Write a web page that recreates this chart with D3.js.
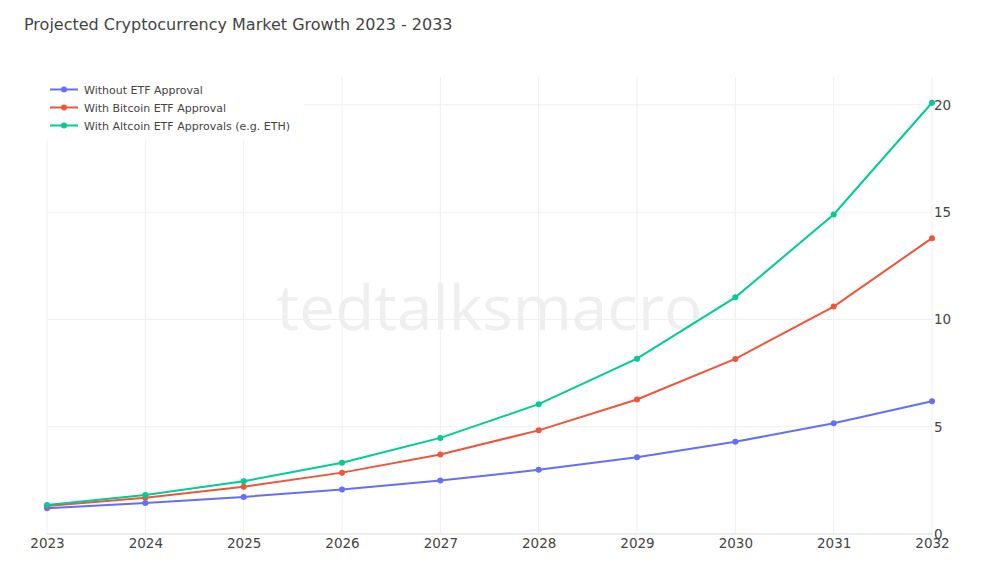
<!DOCTYPE html>
<html>
<head>
<meta charset="utf-8">
<script src="https://cdn.jsdelivr.net/npm/d3@7"></script>
<style>
  body { margin: 0; background: #fff; }
  text { font-family: "DejaVu Sans", Verdana, sans-serif; }
</style>
</head>
<body>
<script>
const w = 1000;
const h = 564;

// data
const years = [2023, 2024, 2025, 2026, 2027, 2028, 2029, 2030, 2031, 2032];
const withoutEtf = [1.2, 1.44, 1.73, 2.07, 2.49, 2.99, 3.58, 4.3, 5.16, 6.19];
const bitcoinEtf = [1.3, 1.69, 2.2, 2.86, 3.71, 4.83, 6.27, 8.16, 10.6, 13.79];
const altcoinEtf = [1.35, 1.82, 2.46, 3.32, 4.48, 6.05, 8.17, 11.03, 14.89, 20.1];
const yTicks = [0, 5, 10, 15, 20];
const seriesNames = ["Without ETF Approval", "With Bitcoin ETF Approval", "With Altcoin ETF Approvals (e.g. ETH)"];
const seriesColors = ["#636efa", "#ef553b", "#00cc96"];

const series = [withoutEtf, bitcoinEtf, altcoinEtf];

const plotLeft = 47, plotRight = 932, plotTop = 77, plotBottom = 534;

let svg = d3.select("body").append("svg")
    .attr("width", w)
    .attr("height", h);

var x = d3.scaleLinear()
    .domain([2023, 2032])
    .range([plotLeft, plotRight]);

var y = d3.scaleLinear()
    .domain([0, 21.3])
    .range([plotBottom, plotTop]);

// grid
svg.append("g")
    .selectAll("line")
    .data(years)
    .join("line")
    .attr("x1", d => x(d)).attr("x2", d => x(d))
    .attr("y1", plotTop).attr("y2", plotBottom)
    .attr("stroke", "#efefef")
    .attr("stroke-width", 1);

svg.append("g")
    .selectAll("line")
    .data(yTicks.filter(d => d > 0))
    .join("line")
    .attr("x1", plotLeft).attr("x2", plotRight)
    .attr("y1", d => y(d)).attr("y2", d => y(d))
    .attr("stroke", "#efefef")
    .attr("stroke-width", 1);

// zero line
svg.append("line")
    .attr("x1", plotLeft).attr("x2", plotRight)
    .attr("y1", y(0)).attr("y2", y(0))
    .attr("stroke", "#e6e6e6")
    .attr("stroke-width", 1.5);

// watermark
svg.append("text")
    .attr("x", (plotLeft + plotRight) / 2)
    .attr("y", 330)
    .attr("text-anchor", "middle")
    .attr("textLength", 426)
    .attr("lengthAdjust", "spacingAndGlyphs")
    .style("font-family", "'Open Sans', sans-serif")
    .style("font-size", "62px")
    .attr("fill", "#efefef")
    .text("tedtalksmacro");

// axes
var xAxis = d3.axisBottom(x)
    .tickValues(years)
    .tickFormat(d3.format("d"))
    .tickSize(0)
    .tickPadding(4);
svg.append("g")
    .attr("transform", "translate(0," + plotBottom + ")")
    .call(xAxis)
    .call(g => g.select(".domain").remove())
    .selectAll("text")
    .style("font-size", "13.5px")
    .attr("fill", "#444");

var yAxis = d3.axisRight(y)
    .tickValues(yTicks)
    .tickSize(0)
    .tickPadding(2);
svg.append("g")
    .attr("transform", "translate(" + plotRight + ",0)")
    .call(yAxis)
    .call(g => g.select(".domain").remove())
    .selectAll("text")
    .style("font-size", "13.5px")
    .attr("fill", "#444");

// lines
var line = d3.line()
    .x((d, i) => x(years[i]))
    .y(d => y(d));

series.forEach(function (s, k) {
    svg.append("path")
        .datum(s)
        .attr("fill", "none")
        .attr("stroke", seriesColors[k])
        .attr("stroke-width", 2)
        .attr("d", line);
    svg.append("g")
        .selectAll("circle")
        .data(s)
        .join("circle")
        .attr("cx", (d, i) => x(years[i]))
        .attr("cy", d => y(d))
        .attr("r", 3)
        .attr("fill", seriesColors[k]);
});

// legend
var legend = svg.append("g");
legend.append("rect")
    .attr("x", 42).attr("y", 76)
    .attr("width", 262).attr("height", 64)
    .attr("fill", "#fff");
seriesNames.forEach(function (name, k) {
    var ly = 89.5 + k * 18;
    legend.append("line")
        .attr("x1", 50).attr("x2", 78)
        .attr("y1", ly).attr("y2", ly)
        .attr("stroke", seriesColors[k])
        .attr("stroke-width", 2);
    legend.append("circle")
        .attr("cx", 64).attr("cy", ly)
        .attr("r", 3)
        .attr("fill", seriesColors[k]);
    legend.append("text")
        .attr("x", 84).attr("y", ly + 4)
        .style("font-size", "11px")
        .attr("fill", "#444")
        .text(name);
});

// title
svg.append("text")
    .attr("x", 24).attr("y", 30)
    .style("font-size", "16px")
    .attr("fill", "#444")
    .text("Projected Cryptocurrency Market Growth 2023 - 2033");
</script>
</body>
</html>
